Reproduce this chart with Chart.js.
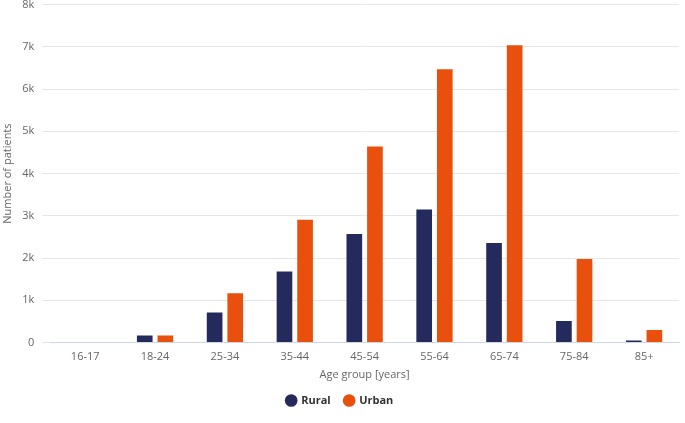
<!DOCTYPE html>
<html>
<head>
<meta charset="utf-8">
<script src="https://cdn.jsdelivr.net/npm/chart.js@4"></script>
<style>
  html, body { margin: 0; padding: 0; background: #fff; overflow: hidden; }
  #wrap { width: 685px; height: 433px; margin-top: -10px; }
</style>
</head>
<body>
<div id="wrap"><canvas id="ageChart"></canvas></div>
<script>
// age groups and patient counts
const ageGroups = ["16-17", "18-24", "25-34", "35-44", "45-54", "55-64", "65-74", "75-84", "85+"];
const ruralPatients = [0, 170, 710, 1680, 2570, 3150, 2360, 510, 50];
const urbanPatients = [0, 170, 1170, 2910, 4640, 6470, 7040, 1980, 300];
const yTicks = [0, 1000, 2000, 3000, 4000, 5000, 6000, 7000, 8000];

const FONT = "'Open Sans', 'DejaVu Sans', sans-serif";

new Chart(document.getElementById("ageChart"), {
  type: "bar",
  data: {
    labels: ageGroups,
    datasets: [
      { label: "Rural", data: ruralPatients, backgroundColor: "#252a5c" },
      { label: "Urban", data: urbanPatients, backgroundColor: "#e9500e" }
    ]
  },
  options: {
    responsive: true,
    maintainAspectRatio: false,
    animation: false,
    layout: { padding: { top: 0, right: 6, bottom: 7, left: 1 } },
    datasets: {
      bar: { categoryPercentage: 0.59, barPercentage: 0.76 }
    },
    scales: {
      x: {
        grid: { display: false },
        border: { color: "#ccd6eb" },
        ticks: { color: "#666", font: { family: FONT, size: 11 }, padding: 0 },
        title: {
          display: true, text: "Age group [years]", color: "#666",
          font: { family: FONT, size: 11 }, padding: { top: 4, bottom: 0 }
        }
      },
      y: {
        min: 0,
        max: yTicks[yTicks.length - 1],
        afterBuildTicks: axis => { axis.ticks = yTicks.map(v => ({ value: v })); },
        grid: { color: "#e6e6e6" },
        border: { display: false },
        ticks: {
          color: "#666", font: { family: FONT, size: 11 }, padding: 8,
          callback: v => v === 0 ? "0" : (v / 1000) + "k"
        },
        title: {
          display: true, text: "Number of patients", color: "#666",
          font: { family: FONT, size: 11 }, padding: { top: 0, bottom: 0 }
        }
      }
    },
    plugins: {
      legend: {
        position: "bottom",
        labels: {
          usePointStyle: true, pointStyle: "circle", boxWidth: 9, boxHeight: 9,
          padding: 14, color: "#333",
          font: { family: FONT, size: 11, weight: "bold" }
        }
      },
      tooltip: { enabled: false }
    }
  }
});
</script>
</body>
</html>
